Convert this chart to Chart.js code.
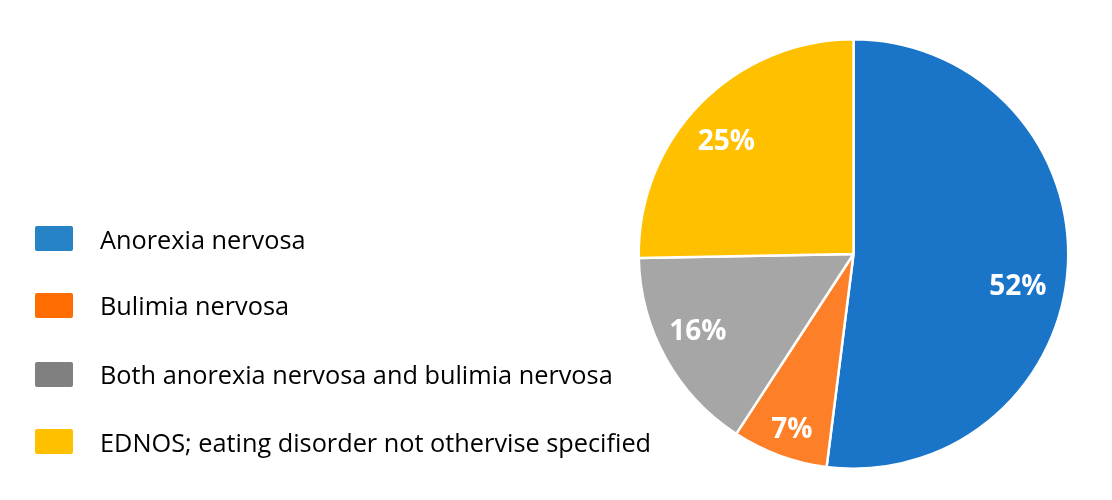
<!DOCTYPE html>
<html>
<head>
<meta charset="utf-8">
<script src="https://cdn.jsdelivr.net/npm/chart.js@4/dist/chart.umd.min.js"></script>
<style>
    html, body { margin: 0; padding: 0; background: #ffffff; }
    #wrap { position: relative; width: 1112px; height: 500px; }
    #pieChart { position: absolute; left: 0; top: 0; }
    #legend { position: absolute; left: 35px; top: 0; font-family: 'Open Sans', sans-serif; font-size: 25.3px; color: #000; }
    .item { position: absolute; left: 0; display: flex; align-items: center; white-space: nowrap; }
    .box { width: 38px; height: 25px; border-radius: 2px; margin-right: 27px; }
</style>
</head>
<body>
<div id="wrap">
    <canvas id="pieChart" width="1112" height="500"></canvas>
    <div id="legend"></div>
</div>
<script>
const categories = [
    'Anorexia nervosa',
    'Bulimia nervosa',
    'Both anorexia nervosa and bulimia nervosa',
    'EDNOS; eating disorder not othervise specified'
];
const shares = [52.0, 7.2, 15.5, 25.3];
const shareLabels = ['52%', '7%', '16%', '25%'];
const sliceColors = ['#1A75C9', '#FD7F28', '#A6A6A6', '#FFC000'];
const legendColors = ['#2683C6', '#FF6D01', '#808080', '#FFC000'];

// legend on the left, rows spread down the lower half
const legendEl = document.getElementById('legend');
const rowCenters = [238.5, 305, 374, 441.5];
categories.forEach(function (name, i) {
    const row = document.createElement('div');
    row.className = 'item';
    row.style.top = (rowCenters[i] - 17) + 'px';
    row.style.height = '34px';
    const box = document.createElement('span');
    box.className = 'box';
    box.style.background = legendColors[i];
    const txt = document.createElement('span');
    txt.textContent = name;
    row.appendChild(box);
    row.appendChild(txt);
    legendEl.appendChild(row);
});

// percentage labels inside the slices
const sliceLabels = {
    id: 'sliceLabels',
    afterDatasetsDraw: function (chart, args, opts) {
        const ctx = chart.ctx;
        const meta = chart.getDatasetMeta(0);
        ctx.save();
        ctx.fillStyle = '#ffffff';
        ctx.font = 'bold 28px "Open Sans", sans-serif';
        ctx.textAlign = 'center';
        ctx.textBaseline = 'middle';
        meta.data.forEach(function (arc, i) {
            const p = arc.getProps(['x', 'y', 'startAngle', 'endAngle', 'outerRadius'], true);
            const mid = (p.startAngle + p.endAngle) / 2 + (opts.angleShift[i] || 0) * Math.PI / 180;
            const r = p.outerRadius * opts.radial[i];
            ctx.fillText(shareLabels[i], p.x + Math.cos(mid) * r, p.y + Math.sin(mid) * r);
        });
        ctx.restore();
    }
};

const ctx = document.getElementById('pieChart');
new Chart(ctx, {
    type: 'pie',
    data: {
        labels: categories,
        datasets: [{
            data: shares,
            backgroundColor: sliceColors,
            borderColor: '#ffffff',
            borderWidth: 2.5
        }]
    },
    options: {
        responsive: false,
        animation: false,
        layout: {
            padding: { left: 637.5, right: 42.5, top: 38, bottom: 30 }
        },
        plugins: {
            legend: { display: false },
            tooltip: { enabled: false },
            sliceLabels: {
                radial: [0.78, 0.87, 0.81, 0.79],
                angleShift: [7.7, -0.9, 2.4, -3]
            }
        }
    },
    plugins: [sliceLabels]
});
</script>
</body>
</html>
